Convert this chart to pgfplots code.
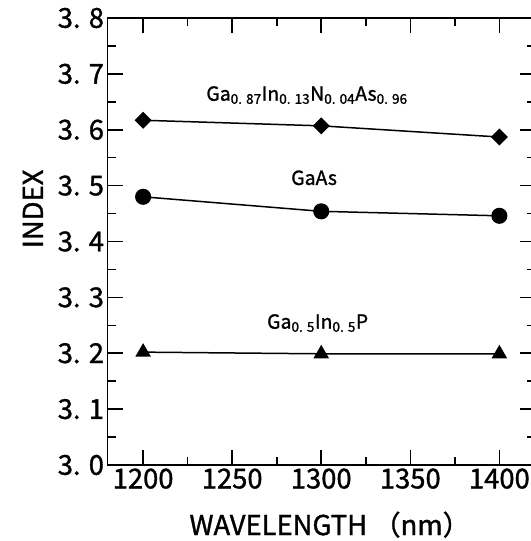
\documentclass[border=0pt]{standalone}
\usepackage{pgfplots}
\pgfplotsset{compat=1.18}
\usepackage{fontspec}
\setmainfont{Noto Sans CJK JP}[FakeBold=1.2]

\newcommand{\sub}[1]{\textsubscript{#1}}
\newcommand{\bigfont}{\fontsize{27.5}{30}\selectfont}
\newcommand{\midfont}{\fontsize{19.5}{22}\selectfont}

\begin{document}
\begin{tikzpicture}
\begin{axis}[
    scale only axis,
    width=427.5bp, height=447bp,
    xmin=1180, xmax=1420,
    ymin=3.0, ymax=3.8,
    xtick={1200,1250,1300,1350,1400},
    xticklabels={1200,1250,1300,1350,1400},
    ytick={3.0,3.1,3.2,3.3,3.4,3.5,3.6,3.7,3.8},
    yticklabels={3. 0,3. 1,3. 2,3. 3,3. 4,3. 5,3. 6,3. 7,3. 8},
    minor x tick num=1, minor y tick num=1,
    tick align=inside,
    major tick length=15bp, minor tick length=8bp,
    tick style={black, line width=1.6bp},
    axis line style={line width=1.8bp},
    ticklabel style={font=\bigfont},
    xlabel={WAVELENGTH （nm）},
    ylabel={INDEX},
    label style={font=\bigfont},
    xlabel style={at={(ticklabel cs:0.52)}, yshift=-16bp},
    ylabel style={at={(ticklabel cs:0.573,8bp)}},
]
\addplot[black, line width=1.5bp, mark=square*, mark size=5.3bp, mark options={rotate=45, fill=black}] coordinates {
    (1200,3.617) (1300,3.607) (1400,3.587)
};
\addplot[black, line width=1.5bp, mark=*, mark size=7.3bp, mark options={fill=black}] coordinates {
    (1200,3.480) (1300,3.454) (1400,3.446)
};
\addplot[black, line width=1.5bp, mark=triangle*, mark size=7.5bp, mark options={fill=black}] coordinates {
    (1200,3.202) (1300,3.199) (1400,3.199)
};
\node[font=\midfont] at (axis cs:1292,3.662) {Ga\sub{0. 87}In\sub{0. 13}N\sub{0. 04}As\sub{0. 96}};
\node[font=\midfont] at (axis cs:1296,3.514) {GaAs};
\node[font=\midfont] at (axis cs:1298,3.254) {Ga\sub{0. 5}In\sub{0. 5}P};
\end{axis}
\pgfresetboundingbox
\path[use as bounding box] ([shift={(-107.5bp,-76bp)}]current axis.south west) rectangle ([shift={(423.5bp,465bp)}]current axis.south west);
\end{tikzpicture}
\end{document}
